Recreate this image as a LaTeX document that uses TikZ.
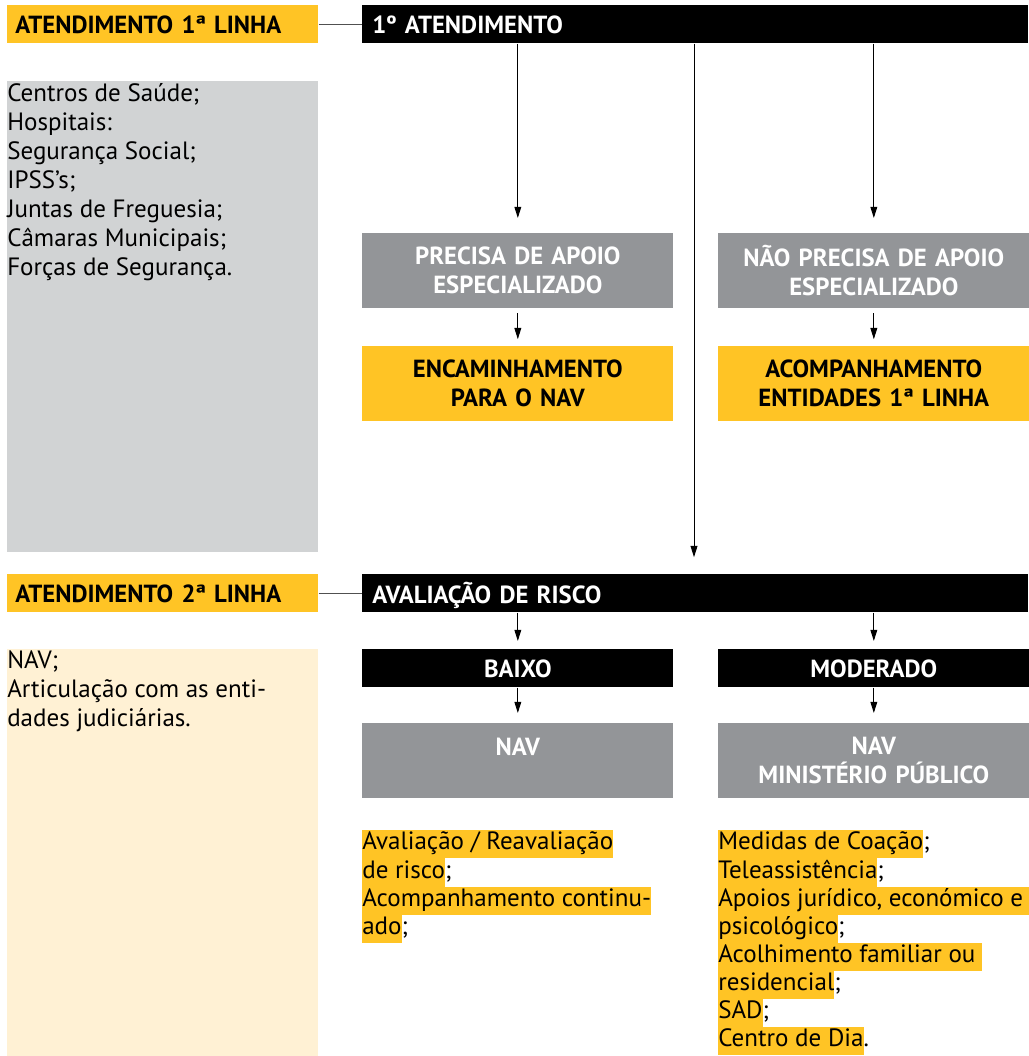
\documentclass[tikz,border=0pt]{standalone}
\usepackage{fontspec}
\setmainfont{PT Sans}
\usetikzlibrary{arrows.meta,positioning}
\definecolor{navyellow}{RGB}{255,196,37}
\definecolor{navgrey}{RGB}{147,149,152}
\definecolor{navlight}{RGB}{209,211,212}
\definecolor{navcream}{RGB}{255,241,212}
\definecolor{navline}{RGB}{80,80,80}
\newcommand\headfont{\fontsize{17.6}{20.6}\selectfont\bfseries}
\newcommand\listfont{\fontsize{17.8}{20.6}\selectfont}
\newcommand\hl[1]{{\setlength\fboxsep{0pt}\colorbox{navyellow}{\strut #1}}}

\begin{document}
\begin{tikzpicture}[x=0.025cm, y=-0.025cm,
  tag/.style = {anchor=north west, fill=navyellow, minimum width=7.775cm, minimum height=0.95cm,
    text width=7.375cm, inner xsep=0.2cm, align=left, text depth=0pt, font=\headfont},
  bar/.style = {anchor=north west, fill=black, text=white, minimum width=16.65cm, minimum height=0.95cm,
    text width=16.15cm, inner xsep=0.25cm, align=left, text depth=0pt, font=\headfont},
  box/.style = {anchor=north west, minimum width=7.775cm, minimum height=1.875cm,
    text width=7.375cm, align=center, font=\headfont},
  greybox/.style = {box, fill=navgrey, text=white},
  yellowbox/.style = {box, fill=navyellow},
  riskbox/.style = {box, fill=black, text=white, minimum height=0.95cm, text depth=0pt},
  panel/.style = {anchor=north west, minimum width=7.775cm, inner sep=0pt},
  listtext/.style = {anchor=north west, inner sep=0pt, align=left, font=\listfont},
  arrow/.style = {-{Triangle[length=0.28cm,width=0.17cm]}, line width=0.7pt},
  link/.style = {navline, line width=0.7pt}]
  \useasboundingbox (0,0) rectangle (1028,1056);

  % first line
  \node[tag] (tag1) at (7,5) {ATENDIMENTO 1ª LINHA};
  \node[bar] (atend) at (362,5) {1º ATENDIMENTO};
  \draw[link] (tag1) -- (atend);
  \node[panel, fill=navlight, minimum height=11.775cm] (side1) at (7,81) {};
  \node[listtext] (ent1) at (7,83) {Centros de Saúde;\\Hospitais:\\Segurança Social;\\IPSS’s;\\
    Juntas de Freguesia;\\Câmaras Municipais;\\Forças de Segurança.};

  \node[greybox] (precisa) at (362,233) {PRECISA DE APOIO\\ESPECIALIZADO};
  \node[greybox] (naoprecisa) at (718,233) {NÃO PRECISA DE APOIO\\ESPECIALIZADO};
  \node[yellowbox] (encam) at (362,346) {ENCAMINHAMENTO\\PARA O NAV};
  \node[yellowbox] (acomp) at (718,346) {ACOMPANHAMENTO\\ENTIDADES 1ª LINHA};

  % second line
  \node[tag] (tag2) at (7,574) {ATENDIMENTO 2ª LINHA};
  \node[bar] (risco) at (362,574) {AVALIAÇÃO DE RISCO};
  \draw[link] (tag2) -- (risco);
  \node[panel, fill=navcream, minimum height=10.175cm] (side2) at (7,649) {};
  \node[listtext] (ent2) at (7,650) {NAV;\\Articulação com as enti-\\dades judiciárias.};

  \node[riskbox] (baixo) at (362,649) {BAIXO};
  \node[riskbox] (moder) at (718,649) {MODERADO};
  \node[greybox] (navL) at (362,723) {NAV\\\phantom{X}};
  \node[greybox] (navR) at (718,723) {NAV\\MINISTÉRIO PÚBLICO};

  \node[listtext, font=\fontsize{17.8}{20}\selectfont] (medL) at (362,830)
    {\hl{Avaliação / Reavaliação}\\\hl{de risco};\\\hl{Acompanhamento continu-}\\\hl{ado};};
  \node[listtext, font=\fontsize{17.8}{20}\selectfont] (medR) at (718,830)
    {\hl{Medidas de Coação};\\\hl{Teleassistência};\\\hl{Apoios jurídico, económico e }\\
     \hl{psicológico};\\\hl{Acolhimento familiar ou }\\\hl{residencial};\\\hl{SAD};\\\hl{Centro de Dia}.};

  % arrows
  \coordinate (mid) at (694,0);
  \draw[arrow, shorten >=0.375cm] (atend.south -| precisa) -- (precisa);
  \draw[arrow, shorten >=0.375cm] (atend.south -| naoprecisa) -- (naoprecisa);
  \draw[arrow, shorten >=0.42cm] (atend.south -| mid) -- (risco.north -| mid);
  \draw[arrow, shorten <=0.12cm, shorten >=0.17cm] (precisa) -- (encam);
  \draw[arrow, shorten <=0.12cm, shorten >=0.17cm] (naoprecisa) -- (acomp);
  \draw[arrow, shorten >=0.2cm] (risco.south -| baixo) -- (baixo);
  \draw[arrow, shorten >=0.2cm] (risco.south -| moder) -- (moder);
  \draw[arrow, shorten >=0.25cm] (baixo) -- (navL);
  \draw[arrow, shorten >=0.25cm] (moder) -- (navR);
\end{tikzpicture}
\end{document}
